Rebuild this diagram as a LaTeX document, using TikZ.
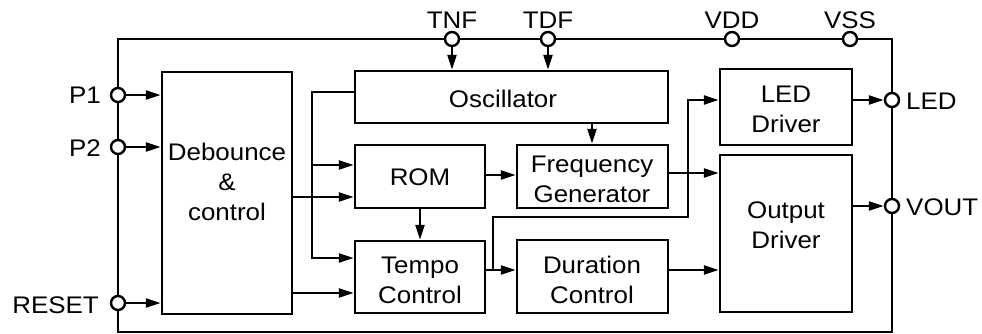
\documentclass[tikz,border=0pt]{standalone}
\usepackage{fontspec}
\setmainfont{Liberation Sans}[FakeStretch=1.08]
\usetikzlibrary{arrows.meta}
\begin{document}
\begin{tikzpicture}[x=1pt,y=-1pt,
  ln/.style={line width=2.4pt},
  arr/.style={line width=2.4pt,-{Triangle[length=15pt,width=9pt]}},
  blk/.style={draw,line width=2.4pt,inner sep=0pt,rectangle},
  pin/.style={draw,line width=2.4pt,circle,fill=white,minimum size=14pt,inner sep=0pt},
  txt/.style={font=\fontsize{24}{30}\selectfont,align=center,inner sep=0pt}]
\useasboundingbox (0,0) rectangle (982,334);
% outer chip
\draw[ln] (118,39) rectangle (892,332);
% blocks
\node[blk,minimum width=130pt,minimum height=242pt] (deb) at (227,193) {};
\node[blk,minimum width=313pt,minimum height=52pt] (osc) at (511.5,97) {};
\node[blk,minimum width=130pt,minimum height=63pt] (rom) at (420,176.5) {};
\node[blk,minimum width=151pt,minimum height=63pt] (fg) at (592.5,176.5) {};
\node[blk,minimum width=130pt,minimum height=72pt] (tmp) at (420,277) {};
\node[blk,minimum width=151pt,minimum height=73pt] (dur) at (592.5,276.5) {};
\node[blk,minimum width=132pt,minimum height=76pt] (led) at (786,107) {};
\node[blk,minimum width=132pt,minimum height=157pt] (out) at (786,233.5) {};
% block texts
\node[txt] (debt) at (227,182) {Debounce\\\&\\control};
\node[txt] (osct) at (503,99) {Oscillator};
\node[txt] (romt) at (420,177) {ROM};
\node[txt] (fgt) at (592,179) {Frequency\\Generator};
\node[txt] (tmpt) at (420,280) {Tempo\\Control};
\node[txt] (durt) at (592,280) {Duration\\Control};
\node[txt] (ledt) at (786,109) {LED\\Driver};
\node[txt] (outt) at (786,225) {Output\\Driver};
% pins
\node[pin] (p1) at (118,95) {};
\node[pin] (p2) at (118,147) {};
\node[pin] (rst) at (118,303) {};
\node[pin] (tnf) at (452,39) {};
\node[pin] (tdf) at (548,39) {};
\node[pin] (vdd) at (732,39) {};
\node[pin] (vss) at (850,39) {};
\node[pin] (ledp) at (892,100) {};
\node[pin] (vout) at (892,206) {};
% pin labels
\node[txt,anchor=east] (p1l) at (101,95) {P1};
\node[txt,anchor=east] (p2l) at (101,148) {P2};
\node[txt,anchor=east] (rstl) at (99,305) {RESET};
\node[txt] (tnfl) at (452,20) {TNF};
\node[txt] (tdfl) at (548,20) {TDF};
\node[txt] (vddl) at (732,20) {VDD};
\node[txt] (vssl) at (850,20) {VSS};
\node[txt,anchor=west] (ledl) at (906,101) {LED};
\node[txt,anchor=west] (voutl) at (906,207) {VOUT};
% connectors
\draw[arr] (p1) -- (deb.west |- p1);
\draw[arr] (p2) -- (deb.west |- p2);
\draw[arr] (rst) -- (deb.west |- rst);
\draw[arr] (tnf) -- (osc.north -| tnf);
\draw[arr] (tdf) -- (osc.north -| tdf);
\coordinate (ox) at (312,92);
\coordinate (oy) at (312,258);
\draw[arr] (osc.west |- ox) -- (ox) -- (oy) -- (tmp.west |- oy);
\coordinate (rb) at (312,165);
\draw[arr] (rb) -- (rom.west |- rb);
\coordinate (d1) at (292,197);
\draw[arr] (deb.east |- d1) -- (rom.west |- d1);
\coordinate (d2) at (292,293);
\draw[arr] (deb.east |- d2) -- (tmp.west |- d2);
\draw[arr] (rom.south) -- (tmp.north);
\coordinate (rf) at (485,175);
\draw[arr] (rom.east |- rf) -- (fg.west |- rf);
\coordinate (of) at (592,123);
\draw[arr] (osc.south -| of) -- (fg.north -| of);
\coordinate (td) at (485,270);
\draw[arr] (tmp.east |- td) -- (dur.west |- td);
\coordinate (tb) at (493,270);
\coordinate (tb1) at (493,217);
\coordinate (tb2) at (688,217);
\coordinate (tb3) at (688,100);
\draw[arr] (tb) -- (tb1) -- (tb2) -- (tb3) -- (led.west |- tb3);
\coordinate (fo) at (668,173);
\draw[arr] (fg.east |- fo) -- (out.west |- fo);
\coordinate (dd) at (668,270);
\draw[arr] (dur.east |- dd) -- (out.west |- dd);
\draw[arr] (led.east |- ledp) -- (ledp);
\draw[arr] (out.east |- vout) -- (vout);
\end{tikzpicture}
\end{document}
